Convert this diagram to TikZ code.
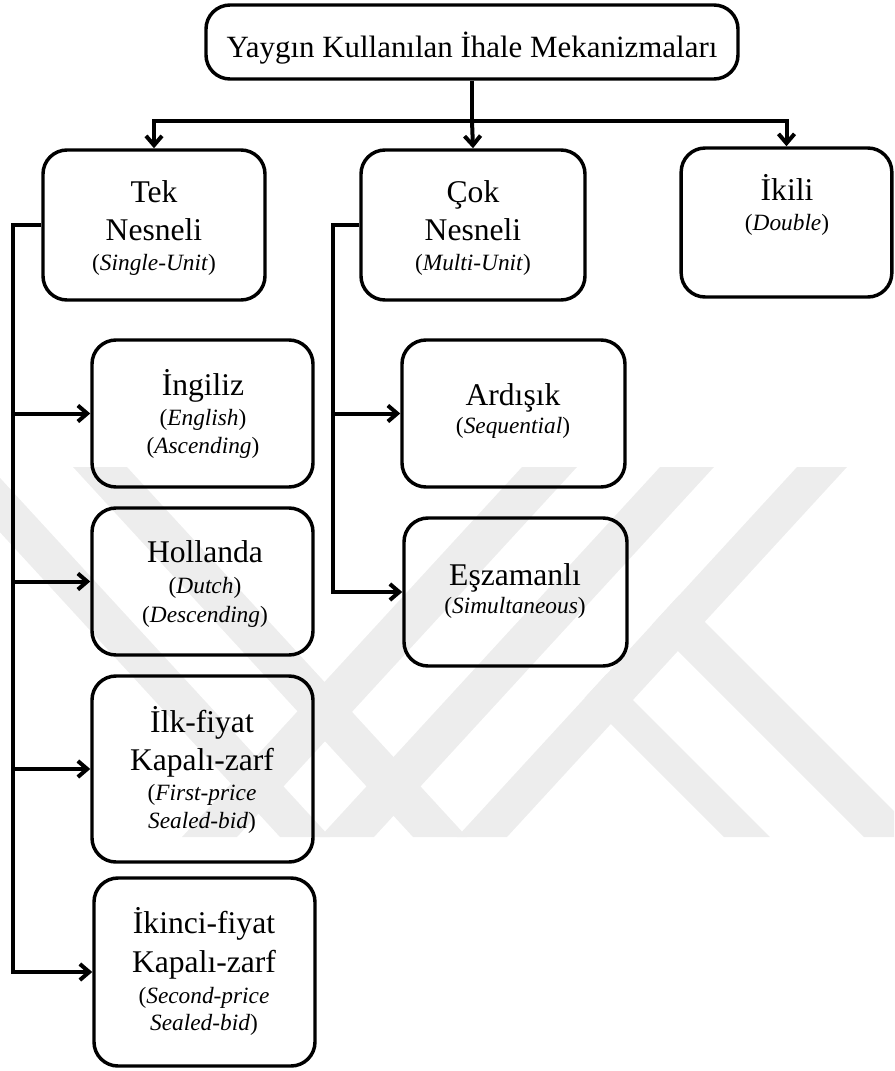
\documentclass[tikz,border=0pt]{standalone}
\usepackage{fontspec}
\setmainfont{Liberation Serif}
\usetikzlibrary{arrows.meta}
\begin{document}
\begin{tikzpicture}[x=0.75pt,y=-0.75pt,
  box/.style={draw=black,line width=2.6pt,rounded corners=18pt,fill=none,inner sep=0pt},
  big/.style={anchor=base,inner sep=0pt,font=\fontsize{23.7}{28}\selectfont},
  ttl/.style={anchor=base,inner sep=0pt,font=\fontsize{23.2}{27}\selectfont},
  sm/.style={anchor=base,inner sep=0pt,font=\fontsize{17.5}{21}\selectfont},
  conn/.style={line width=3pt,-{Straight Barb[length=7pt,width=12pt]}},
  conn2/.style={line width=3pt,{Straight Barb[length=7pt,width=12pt]}-{Straight Barb[length=7pt,width=12pt]}},
  wm/.style={fill=gray!14,draw=none}]
\useasboundingbox (0,0) rectangle (894,1071);
% watermark
\begin{scope}
\clip (0,467) rectangle (894,837);
\fill[wm] (73,467) -- (127,467) -- (467,837) -- (413,837) -- cycle;
\fill[wm] (-60,467) -- (-10,467) -- (330,837) -- (280,837) -- cycle;
\fill[wm] (797,467) -- (847,467) -- (507,837) -- (457,837) -- cycle;
\fill[wm] (660,467) -- (714,467) -- (374,837) -- (320,837) -- cycle;
\fill[wm] (522,467) -- (577,467) -- (237,837) -- (182,837) -- cycle;
\fill[wm] (651.8,624.8) -- (678.6,595.6) -- (920,837) -- (864,837) -- cycle;
\fill[wm] (584.7,697.7) -- (606.75,673.75) -- (770,837) -- (724,837) -- cycle;
\end{scope}
% boxes
\node[box,minimum width=399pt,minimum height=55.5pt] (title) at (472,42) {};
\node[box,minimum width=166.5pt,minimum height=112.5pt] (tek) at (154,225) {};
\node[box,minimum width=168pt,minimum height=112.5pt] (cok) at (473,225) {};
\node[box,minimum width=158pt,minimum height=111.75pt] (ikili) at (786.5,222.5) {};
\node[box,minimum width=165.75pt,minimum height=110.25pt] (ing) at (202.5,413.5) {};
\node[box,minimum width=165.75pt,minimum height=110.25pt] (hol) at (202.5,581.5) {};
\node[box,minimum width=165.75pt,minimum height=139.5pt] (ilk) at (202.5,769) {};
\node[box,minimum width=165.75pt,minimum height=141pt] (iki) at (204.5,972) {};
\node[box,minimum width=167.25pt,minimum height=110.25pt] (ard) at (513.5,413.5) {};
\node[box,minimum width=167.25pt,minimum height=111pt] (esz) at (515.5,592) {};
% texts
\node[ttl] (titlet) at (472,57) {Yaygın Kullanılan İhale Mekanizmaları};
\node[big] (tek1) at (154,202) {Tek};
\node[big] (tek2) at (154,240) {Nesneli};
\node[sm] (tek3) at (154,270) {(\textit{Single-Unit})};
\node[big] (cok1) at (473,202) {Çok};
\node[big] (cok2) at (473,240) {Nesneli};
\node[sm] (cok3) at (473,270) {(\textit{Multi-Unit})};
\node[big] (iki1) at (787,200) {İkili};
\node[sm] (iki2) at (787,230) {(\textit{Double})};
\node[big] (ing1) at (203,395) {İngiliz};
\node[sm] (ing2) at (203,425) {(\textit{English})};
\node[sm] (ing3) at (203,453) {(\textit{Ascending})};
\node[big] (hol1) at (205,562) {Hollanda};
\node[sm] (hol2) at (205,593) {(\textit{Dutch})};
\node[sm] (hol3) at (205,622) {(\textit{Descending})};
\node[big] (ilk1) at (202,732) {İlk-fiyat};
\node[big] (ilk2) at (202,770) {Kapalı-zarf};
\node[sm] (ilk3) at (202,800) {(\textit{First-price}};
\node[sm] (ilk4) at (202,828) {\textit{Sealed-bid})};
\node[big] (ikc1) at (204,933) {İkinci-fiyat};
\node[big] (ikc2) at (204,972) {Kapalı-zarf};
\node[sm] (ikc3) at (204,1003) {(\textit{Second-price}};
\node[sm] (ikc4) at (204,1030) {\textit{Sealed-bid})};
\node[big] (ard1) at (513,405) {Ardışık};
\node[sm] (ard2) at (513,433) {(\textit{Sequential})};
\node[big] (esz1) at (515,585) {Eşzamanlı};
\node[sm] (esz2) at (515,613) {(\textit{Simultaneous})};
% connectors
\coordinate (bus) at (0,121);
\coordinate (tl) at (13,0);
\coordinate (cl) at (333,0);
\draw[line width=3pt] (title.south) -- (title.south |- bus);
\draw[conn2] (tek.north) -- (tek.north |- bus) -- (ikili.north |- bus) -- (ikili.north);
\draw[conn] (title.south |- bus) -- (cok.north);
\draw[conn] (tek.west) -| (tl |- iki.west) -- (iki.west);
\draw[conn] (tl |- ing.west) -- (ing.west);
\draw[conn] (tl |- hol.west) -- (hol.west);
\draw[conn] (tl |- ilk.west) -- (ilk.west);
\draw[conn] (cok.west) -| (cl |- esz.west) -- (esz.west);
\draw[conn] (cl |- ard.west) -- (ard.west);
\end{tikzpicture}
\end{document}
